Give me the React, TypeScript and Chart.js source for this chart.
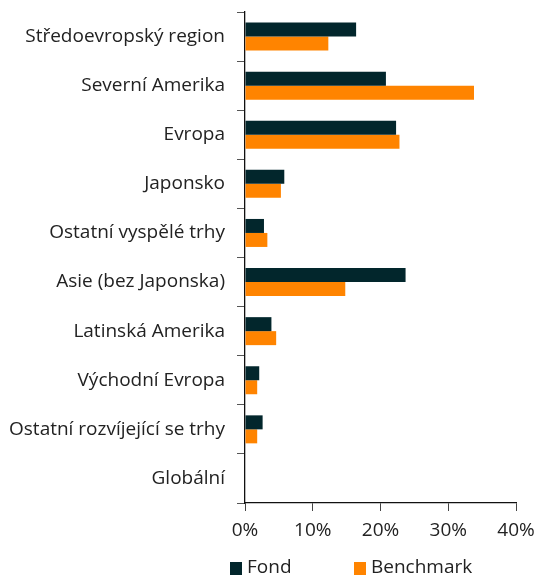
import React, { useEffect, useRef } from "react";
import { Chart, registerables } from "chart.js";

Chart.register(...registerables);

const categories = [
  "Středoevropský region",
  "Severní Amerika",
  "Evropa",
  "Japonsko",
  "Ostatní vyspělé trhy",
  "Asie (bez Japonska)",
  "Latinská Amerika",
  "Východní Evropa",
  "Ostatní rozvíjející se trhy",
  "Globální",
];
const fondValues = [16.4, 20.8, 22.3, 5.8, 2.8, 23.7, 3.9, 2.1, 2.6, 0];
const benchmarkValues = [12.3, 33.8, 22.8, 5.3, 3.3, 14.8, 4.6, 1.8, 1.8, 0];
const seriesNames = ["Fond", "Benchmark"];
const xTicks = [0, 10, 20, 30, 40];

const FOND_COLOR = "#02262c";
const BENCH_COLOR = "#ff8400";
const FONT = "'Open Sans', 'Noto Sans', sans-serif";
const TEXT = "#222222";
const FS = 19;

export default function App() {
  const ref = useRef<HTMLCanvasElement | null>(null);

  useEffect(() => {
    document.body.style.margin = "0";
    const ctx = ref.current!;
    const chart = new Chart(ctx, {
      type: "bar",
      data: {
        labels: categories,
        datasets: [
          {
            label: seriesNames[0],
            data: fondValues,
            backgroundColor: FOND_COLOR,
            categoryPercentage: 0.57,
            barPercentage: 1,
          },
          {
            label: seriesNames[1],
            data: benchmarkValues,
            backgroundColor: BENCH_COLOR,
            categoryPercentage: 0.57,
            barPercentage: 1,
          },
        ],
      },
      options: {
        indexAxis: "y",
        animation: false,
        responsive: false,
        maintainAspectRatio: false,
        layout: { padding: { top: 12, right: 22, left: 0, bottom: 0 } },
        plugins: {
          legend: { display: false },
          tooltip: { enabled: false },
        },
        scales: {
          x: {
            min: 0,
            max: 40,
            afterBuildTicks: (s: any) => {
              s.ticks = xTicks.map((v) => ({ value: v }));
            },
            afterFit: (s: any) => {
              s.height = 73;
              s.paddingLeft = 0;
              s.paddingRight = 0;
            },
            grid: {
              display: true,
              drawOnChartArea: false,
              drawTicks: true,
              tickLength: 8,
              color: "#444",
            },
            border: { display: true, color: "#111", width: 1.3 },
            ticks: {
              padding: 8,
              color: TEXT,
              font: { family: FONT, size: FS },
              callback: (v: any) => v + "%",
            },
          },
          y: {
            afterFit: (s: any) => {
              s.width = 245;
              s.paddingTop = 0;
              s.paddingBottom = 0;
            },
            grid: {
              display: true,
              offset: true,
              drawOnChartArea: false,
              drawTicks: true,
              tickLength: 8,
              color: "#555",
            },
            border: { display: true, color: "#111", width: 1.3 },
            ticks: {
              padding: 12,
              color: TEXT,
              font: { family: FONT, size: FS },
            },
          },
        },
      },
    });
    return () => chart.destroy();
  }, []);

  const legendItem = (left: number, textLeft: number, color: string, text: string) => (
    <div style={{ position: "absolute", left: 0, top: 0 }}>
      <span
        style={{
          position: "absolute",
          left,
          top: 562,
          width: 12,
          height: 13,
          background: color,
        }}
      />
      <span
        style={{
          position: "absolute",
          left: textLeft,
          top: 554,
          fontFamily: FONT,
          fontSize: FS,
          color: TEXT,
          lineHeight: "24px",
          whiteSpace: "nowrap",
        }}
      >
        {text}
      </span>
    </div>
  );

  return (
    <div style={{ position: "relative", width: 538, height: 576, overflow: "hidden", background: "#fff" }}>
      <canvas ref={ref} width={538} height={576} style={{ display: "block" }} />
      {legendItem(230, 247, FOND_COLOR, seriesNames[0])}
      {legendItem(354, 371, BENCH_COLOR, seriesNames[1])}
    </div>
  );
}
